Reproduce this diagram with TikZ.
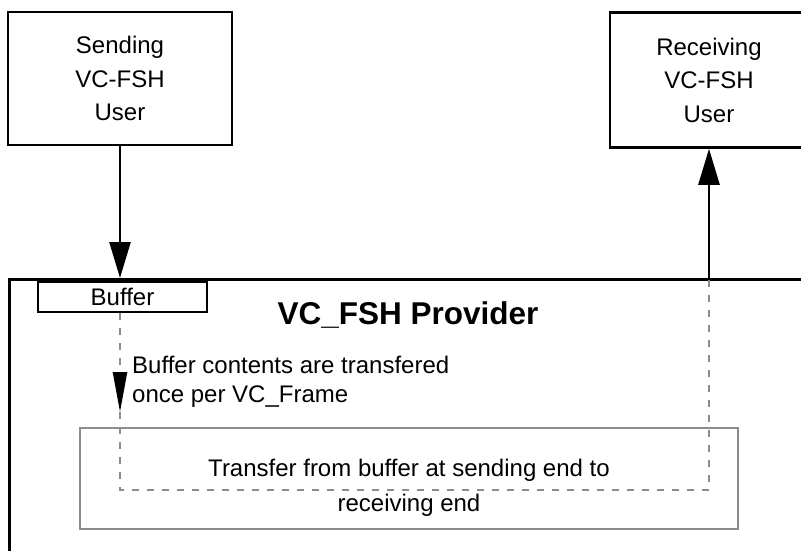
\documentclass[tikz,border=0pt]{standalone}
\usepackage{fontspec}
\setmainfont{Liberation Sans}
\usetikzlibrary{arrows.meta,positioning}

\begin{document}
\begin{tikzpicture}
[x=1pt,y=-1pt,
userbox/.style={draw=black,line width=2.5pt,inner sep=0pt,align=center,font=\fontsize{24}{33.5}\selectfont},
graybox/.style={draw=black!45,line width=2.5pt,inner sep=0pt},
flow/.style={black!45,line width=2.5pt,dash pattern=on 7pt off 8pt},
solidarrow/.style={line width=2.5pt,-{Triangle[length=36pt,width=21pt]}},
note/.style={font=\fontsize{24}{29}\selectfont,align=left,inner sep=0pt}]
\useasboundingbox (0,0) rectangle (801,550);
\clip (0,0) rectangle (801,550);

\node[userbox,minimum width=224pt,minimum height=133pt] (snd) at (120,78.5) {Sending\\VC-FSH\\User};
\node[userbox,minimum width=198pt,minimum height=135pt] (rcv) at (709,80) {Receiving\\VC-FSH\\User};
\node[draw,line width=2.5pt,inner sep=0pt,minimum width=840pt,minimum height=300pt,anchor=north west] (prov) at (8,278) {};
\node[userbox,minimum width=169pt,minimum height=30pt] (buf) at (122.5,297) {Buffer};
\node[font=\fontsize{31.5}{36}\selectfont\bfseries] (title) at (408,315) {VC\_FSH Provider};

\node[graybox,minimum width=658pt,minimum height=101pt] (xfer) at (409,478.5) {};
\node[note,align=center,font=\fontsize{24}{35}\selectfont] (xfertext) at (409,488) {Transfer from buffer at sending end to\\receiving end};
\node[note,anchor=west] (nt) at (132,382) {Buffer contents are transfered\\once per VC\_Frame};

\coordinate (tip) at (120,412);
\coordinate (bend) at (120,490);

\draw[solidarrow] (snd.south) -- (snd.south |- prov.north);
\draw[solidarrow] (rcv.south |- prov.north) -- (rcv.south);
\draw[flow,-{Triangle[length=40pt,width=14pt,color=black]}] (buf.south -| tip) -- (tip);
\draw[flow] (tip) -- (bend) -| (rcv.south |- prov.north);
\end{tikzpicture}
\end{document}
